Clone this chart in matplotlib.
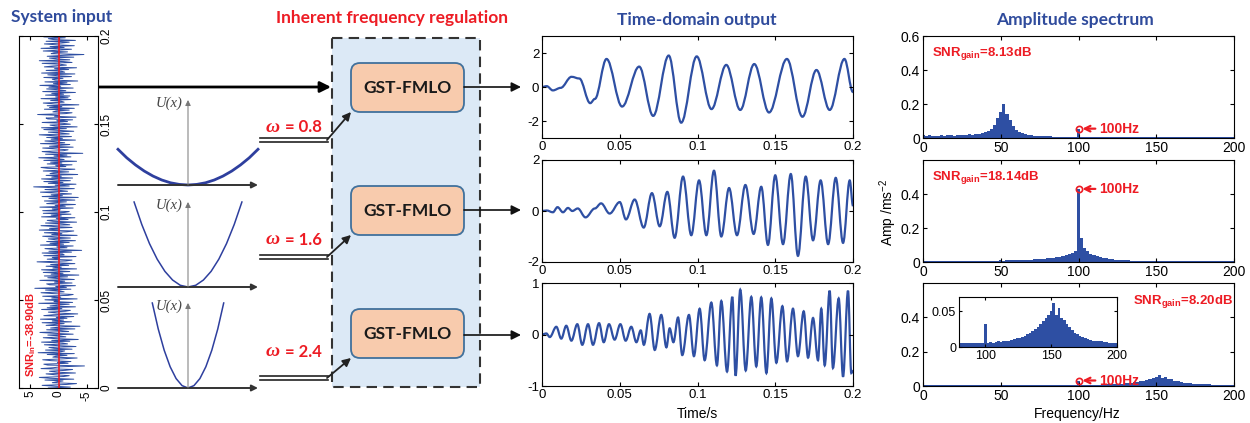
import numpy as np
import matplotlib.pyplot as plt
from matplotlib.patches import FancyBboxPatch, Rectangle, PathPatch
from matplotlib.path import Path

plt.rcParams['font.family'] = ['Liberation Sans', 'DejaVu Sans']
plt.rcParams['mathtext.fontset'] = 'custom'
plt.rcParams['mathtext.rm'] = 'Liberation Sans'
plt.rcParams['mathtext.bf'] = 'Liberation Sans:bold'
plt.rcParams['mathtext.it'] = 'Liberation Sans:italic'
plt.rcParams['axes.unicode_minus'] = False
plt.rcParams['xtick.direction'] = 'in'
plt.rcParams['ytick.direction'] = 'in'
plt.rcParams['xtick.top'] = True
plt.rcParams['ytick.right'] = True

# ---- data ----
# system input (noisy signal), amplitude samples over 0..0.2 s
noise = [1.8, -2.1, 0.6, 2.9, -1.4, -3.2, 1.1, 0.3, -0.8, 2.4,
         -2.7, 1.5, 3.4, -0.9, -1.9, 0.7, 2.2, -3.0, 0.4, 1.6,
         -1.2, -2.5, 3.1, 0.9, -0.3, -4.6, 1.9, 2.6, -1.7, 0.2,
         -2.2, 1.3, 2.8, -0.6, -3.3, 1.0, 0.5, -1.5, 2.0, -2.8,
         3.6, -0.4, -1.1, 2.3, -2.4, 0.8, 1.7, -3.1, 0.1, 2.5,
         -1.6, -0.7, 3.0, -2.0, 1.2, -3.5, 0.6, 2.7, -1.3, -0.2,
         1.9, -2.6, 0.9, 3.3, -1.8, -0.5, 2.1, -2.9, 1.4, 0.0,
         -3.8, 2.2, 0.7, -1.0, 2.9, -2.3, 1.1, -0.9, 3.2, -1.5,
         0.4, -2.7, 2.6, 1.0, -3.4, 0.3, 1.8, -1.2, -2.1, 3.0,
         -0.6, 2.0, -3.0, 1.5, 0.2, -1.9, 3.5, -2.5, 0.8, -0.1,
         2.4, -3.3, 1.2, -0.4, 2.8, -1.7, -2.6, 0.9, 3.1, -1.0,
         -0.3, 2.3, -2.2, 4.2, -1.4, 0.5, -3.0, 1.6, 2.1, -2.4,
         0.7, -1.1, 3.3, -2.8, 0.0, 1.9, -1.6, 2.5, -3.6, 1.3,
         -0.8, 2.7, -2.0, 0.4, 3.0, -3.2, 1.0, -0.5, 2.2, -1.8,
         1.4, -2.9, 0.6, 3.8, -1.3, -2.4, 2.0, -0.2, 1.1, -3.1,
         2.6, -1.0, -0.7, 2.9, -2.3, 1.7, -4.1, 0.8, 2.4, -1.5,
         0.3, -2.6, 3.2, -0.9, 1.5, -1.9, 2.1, -3.0, 0.5, 1.8,
         -2.1, 0.9, 2.8, -3.3, 1.2, -0.6, 2.5, -1.4, -2.7, 3.4,
         -0.2, 1.6, -2.4, 0.7, 3.1, -2.0, -0.8, 2.3, -3.2, 1.0,
         2.0, -1.7, 0.4, -2.9, 3.0, -0.5, 1.3, -2.2, 2.7, -1.1,
         -1.9, 2.8, -0.3, 1.1, -2.6, 3.3, -1.2, 0.6, -3.0, 2.1,
         0.8, -1.4, 2.5, -2.9, 0.2, 1.7, -3.5, 2.9, -0.7, 1.3,
         -2.3, 0.4, 3.2, -1.6, -0.2, 2.4, -2.8, 1.0, 4.4, -1.9,
         0.6, -3.1, 1.8, -0.8, 2.6, -2.1, 0.3, 3.0, -2.5, 1.2,
         -0.5, 2.2, -3.4, 1.5, 0.9, -1.8, 2.7, -0.4, -2.9, 1.9,
         3.1, -1.3, 0.5, -2.4, 2.0, -0.6, 1.4, -3.2, 2.6, -1.0,
         0.2, 3.5, -2.2, 0.8, -1.5, 2.3, -4.3, 1.1, 2.9, -0.9,
         -1.7, 0.7, 2.8, -2.6, 1.6, -0.3, -2.0, 3.2, -1.1, 0.5,
         2.4, -3.0, 1.3, -0.7, 2.1, -2.3, 0.9, 3.4, -1.9, -0.4,
         1.8, -2.7, 0.1, 2.6, -1.4, 3.0, -3.3, 0.6, 1.5, -2.1,
         -0.8, 2.9, -1.6, 0.3, -2.5, 1.9, 2.2, -3.1, 0.7, -0.2,
         3.7, -1.2, -2.4, 1.0, 0.4, -1.9, 2.5, -2.8, 1.6, -0.6,
         2.0, -3.6, 0.8, 2.7, -1.0, -0.5, 1.4, -2.2, 3.1, -1.7,
         0.5, -2.0, 2.3, -0.9, 1.2, -3.0, 2.8, -1.3, -0.1, 2.1,
         -2.6, 1.7, -0.4, 3.3, -2.1, 0.9, -1.5, 2.4, -3.4, 0.6,
         1.1, -0.8, 2.6, -2.3, 0.2, 1.9, -2.9, 3.0, -1.1, -0.6,
         2.2, -1.8, 0.7, -3.2, 2.5, 1.0, -1.4, -0.3, 2.9, -2.4,
         -0.9, 3.4, -2.0, 0.4, 1.6, -2.7, 2.0, -0.7, -4.5, 1.3,
         0.8, -1.6, 2.7, -0.2, -2.3, 3.1, -1.0, 1.5, -2.8, 0.3,
         2.5, -0.5, -1.9, 2.2, -3.0, 0.9, 1.8, -1.2, 2.6, -1.8]
noise_t = np.linspace(0, 0.2, len(noise))
clean_t = [0, 0.2]
clean_x = [0, 0]

# potential wells U(x) for the three omega values
well1_x = [-1.0, -0.875, -0.75, -0.625, -0.5, -0.375, -0.25, -0.125, 0.0,
           0.125, 0.25, 0.375, 0.5, 0.625, 0.75, 0.875, 1.0]
well1_u = [0.42, 0.32, 0.236, 0.164, 0.105, 0.059, 0.026, 0.007, 0.0,
           0.007, 0.026, 0.059, 0.105, 0.164, 0.236, 0.32, 0.42]
well2_x = [-0.77, -0.66, -0.55, -0.44, -0.33, -0.22, -0.11, 0.0,
           0.11, 0.22, 0.33, 0.44, 0.55, 0.66, 0.77]
well2_u = [1.0, 0.735, 0.51, 0.327, 0.184, 0.082, 0.02, 0.0,
           0.02, 0.082, 0.184, 0.327, 0.51, 0.735, 1.0]
well3_x = [-0.51, -0.425, -0.34, -0.255, -0.17, -0.085, 0.0,
           0.085, 0.17, 0.255, 0.34, 0.425, 0.51]
well3_u = [1.0, 0.694, 0.444, 0.25, 0.111, 0.028, 0.0,
           0.028, 0.111, 0.25, 0.444, 0.694, 1.0]
omegas = ['0.8', '1.6', '2.4']

# time-domain outputs (peaks / troughs)
out1_t = [0, 0.003, 0.007, 0.012, 0.019, 0.024, 0.031, 0.034, 0.0415, 0.0515,
          0.0625, 0.0715, 0.0815, 0.0895, 0.0995, 0.109, 0.1185, 0.1275, 0.1365,
          0.146, 0.1575, 0.1675, 0.1765, 0.185, 0.1945, 0.2]
out1_y = [0, 0.05, -0.2, -0.05, 0.6, 0.5, -0.95, -0.7, 1.65, -1.15,
          1.2, -1.7, 1.85, -2.1, 1.8, -1.3, 1.3, -1.35, 1.35,
          -1.5, 1.65, -1.75, 1.0, -1.35, 1.65, -0.3]
out2_t = [0, 0.003, 0.007, 0.010, 0.0135, 0.0167, 0.0195, 0.023, 0.028, 0.034,
          0.038, 0.0435, 0.050, 0.054, 0.0596, 0.0654, 0.0707, 0.0757, 0.0806, 0.0853,
          0.0907, 0.096, 0.101, 0.1057, 0.1106, 0.1153, 0.1203, 0.1254, 0.1308, 0.1361,
          0.141, 0.1453, 0.150, 0.155, 0.160, 0.1646, 0.1696, 0.1743, 0.1792, 0.184,
          0.1889, 0.1936, 0.1979, 0.2]
out2_y = [0, 0.02, -0.05, 0.15, -0.05, 0.12, 0.0, 0.1, -0.25, 0.1,
          0.3, -0.1, 0.35, -0.33, 0.45, -0.65, 0.7, -0.6, 0.75, -1.05,
          1.35, -0.95, 1.2, -0.95, 1.58, -1.0, 0.9, -0.95, 1.02, -0.9,
          0.95, -1.33, 1.4, -1.3, 1.45, -1.76, 1.35, -1.15, 1.2, -1.3,
          1.3, -1.25, 1.2, 0.2]
out3_t = [0, 0.0028, 0.005, 0.0092, 0.0124, 0.0156, 0.0189, 0.0227, 0.0259, 0.0296,
          0.0328, 0.0367, 0.0397, 0.0431, 0.0467, 0.0504, 0.0538, 0.0574, 0.0607, 0.0635,
          0.0655, 0.0692, 0.0725, 0.0767, 0.080, 0.0821, 0.0845, 0.0875, 0.0902, 0.0945,
          0.0977, 0.1014, 0.1046, 0.1089, 0.1125, 0.1153, 0.119, 0.1224, 0.1245, 0.1275,
          0.131, 0.1346, 0.1378, 0.141, 0.1443, 0.1475, 0.1507, 0.1546, 0.1576, 0.1614,
          0.1646, 0.1683, 0.1711, 0.1743, 0.1775, 0.1796, 0.1818, 0.185, 0.1871, 0.1908,
          0.1936, 0.1968, 0.1989, 0.2]
out3_y = [0, 0.02, -0.05, 0.15, -0.08, 0.17, -0.12, 0.2, -0.2, 0.2,
          -0.2, 0.22, -0.15, 0.2, -0.1, 0.2, -0.12, 0.15, -0.15, 0.08,
          -0.2, 0.4, -0.3, 0.38, -0.25, 0.12, -0.15, 0.33, -0.4, 0.38,
          -0.42, 0.5, -0.5, 0.62, -0.6, 0.65, -0.72, 0.73, -0.8, 0.87,
          -0.7, 0.73, -0.62, 0.72, -0.75, 0.7, -0.55, 0.55, -0.52, 0.5,
          -0.42, 0.45, -0.45, 0.32, -0.5, 0.5, -0.6, 0.85, -0.65, 0.7,
          -0.82, 0.85, -0.75, -0.7]

# amplitude spectra, 2 Hz bins from 0 to 200 Hz
freq = np.arange(0, 201, 2)
spec1 = [0.016, 0.012, 0.015, 0.011, 0.014, 0.013, 0.016, 0.012, 0.015, 0.017,
         0.014, 0.018, 0.016, 0.019, 0.017, 0.021, 0.019, 0.023, 0.025, 0.029,
         0.033, 0.041, 0.052, 0.078, 0.12, 0.15, 0.2, 0.14, 0.105, 0.068,
         0.046, 0.036, 0.029, 0.023, 0.02, 0.017, 0.014, 0.013, 0.011, 0.01,
         0.009, 0.009, 0.008, 0.007, 0.007, 0.006, 0.006, 0.005, 0.005, 0.005,
         0.055, 0.006, 0.005, 0.004, 0.003, 0.004, 0.004, 0.003, 0.004, 0.003,
         0.004, 0.003, 0.003, 0.004, 0.003, 0.003, 0.004, 0.003, 0.003, 0.004,
         0.003, 0.003, 0.003, 0.003, 0.004, 0.003, 0.003, 0.003, 0.004, 0.003,
         0.003, 0.003, 0.003, 0.003, 0.003, 0.004, 0.003, 0.003, 0.003, 0.003,
         0.003, 0.003, 0.003, 0.003, 0.003, 0.003, 0.003, 0.003, 0.003, 0.003,
         0.003]
spec2 = [0.005, 0.004, 0.006, 0.004, 0.005, 0.005, 0.004, 0.006, 0.005, 0.005,
         0.006, 0.005, 0.006, 0.005, 0.007, 0.006, 0.006, 0.007, 0.006, 0.007,
         0.007, 0.008, 0.007, 0.008, 0.008, 0.009, 0.008, 0.009, 0.009, 0.01,
         0.01, 0.011, 0.011, 0.012, 0.013, 0.014, 0.015, 0.016, 0.018, 0.02,
         0.022, 0.024, 0.026, 0.028, 0.031, 0.035, 0.04, 0.046, 0.052, 0.062,
         0.43, 0.14, 0.085, 0.062, 0.05, 0.042, 0.034, 0.029, 0.025, 0.021,
         0.018, 0.016, 0.014, 0.012, 0.011, 0.01, 0.009, 0.008, 0.008, 0.007,
         0.006, 0.005, 0.005, 0.004, 0.005, 0.004, 0.004, 0.004, 0.003, 0.004,
         0.003, 0.004, 0.004, 0.003, 0.004, 0.003, 0.003, 0.004, 0.003, 0.003,
         0.004, 0.003, 0.003, 0.003, 0.004, 0.003, 0.003, 0.003, 0.003, 0.003,
         0.003]
spec3 = [0.005, 0.004, 0.006, 0.005, 0.004, 0.006, 0.005, 0.005, 0.004, 0.006,
         0.005, 0.004, 0.005, 0.006, 0.004, 0.005, 0.005, 0.006, 0.004, 0.005,
         0.006, 0.005, 0.004, 0.005, 0.006, 0.005, 0.005, 0.004, 0.006, 0.005,
         0.005, 0.006, 0.004, 0.005, 0.005, 0.006, 0.005, 0.004, 0.006, 0.005,
         0.005, 0.006, 0.005, 0.005, 0.006, 0.005, 0.006, 0.005, 0.006, 0.006,
         0.032, 0.006, 0.007, 0.006, 0.007, 0.008, 0.007, 0.008, 0.009, 0.009,
         0.01, 0.011, 0.012, 0.013, 0.014, 0.016, 0.018, 0.02, 0.022, 0.025,
         0.028, 0.032, 0.036, 0.04, 0.045, 0.05, 0.062, 0.045, 0.055, 0.04,
         0.038, 0.032, 0.028, 0.024, 0.02, 0.018, 0.016, 0.014, 0.012, 0.011,
         0.01, 0.009, 0.009, 0.008, 0.008, 0.007, 0.007, 0.006, 0.006, 0.005,
         0.005]
snr_gain = ['8.13', '18.14', '8.20']

blue = '#2e4fa3'
red = '#ed1c24'
tblue = '#2f4b9c'

W, H = 1250, 423
fig = plt.figure(figsize=(12.5, 4.23), dpi=100)


def px_axes(x0, y0, x1, y1):
    return fig.add_axes([x0 / W, 1 - y1 / H, (x1 - x0) / W, (y1 - y0) / H])


def smooth_path(t, y):
    # cubic bezier segments with flat tangents at each peak / trough
    verts = [(t[0], y[0])]
    codes = [Path.MOVETO]
    for i in range(len(t) - 1):
        d = (t[i + 1] - t[i]) * 0.36
        verts += [(t[i] + d, y[i]), (t[i + 1] - d, y[i + 1]), (t[i + 1], y[i + 1])]
        codes += [Path.CURVE4] * 3
    return Path(verts, codes)


# overlay in pixel coordinates for the block diagram
ov = px_axes(0, 0, W, H)
ov.set_xlim(0, W)
ov.set_ylim(H, 0)
ov.axis('off')

tfont = dict(family=['Lato', 'DejaVu Sans'], weight='bold', ha='center', va='center')
ov.text(62, 17, 'System input', color=tblue, fontsize=12.5, **tfont)
ov.text(392, 18, 'Inherent frequency regulation', color=red, fontsize=12.5, **tfont)
ov.text(697, 20, 'Time-domain output', color=tblue, fontsize=12.5, **tfont)
ov.text(1075, 20, 'Amplitude spectrum', color=tblue, fontsize=12.5, **tfont)

ov.add_patch(Rectangle((332, 38), 148, 349, fc='#dce9f6', ec='#333333',
                       ls=(0, (5, 3)), lw=1.5))
ov.annotate('', xy=(331, 87), xytext=(98, 87),
            arrowprops=dict(arrowstyle='-|>', color='k', lw=2, mutation_scale=16,
                            shrinkA=0, shrinkB=0))

box_top = [63, 186, 309]
line_y = [140, 257, 378]
lab_y = [127, 240, 352]
out_y = [87, 210, 335]
for i in range(3):
    ov.add_patch(FancyBboxPatch((351, box_top[i]), 113, 49,
                                boxstyle='round,pad=0,rounding_size=9',
                                fc='#f8cbad', ec='#41719c', lw=1.3))
    ov.text(407, box_top[i] + 25, 'GST-FMLO', fontsize=12.5, color='#1a1a1a', **tfont)
    ov.plot([260, 328], [line_y[i] - 2, line_y[i] - 2], color='#222', lw=1.2)
    ov.plot([260, 328], [line_y[i] + 2, line_y[i] + 2], color='#222', lw=1.2)
    ov.annotate('', xy=(351, box_top[i] + 49), xytext=(327, line_y[i]),
                arrowprops=dict(arrowstyle='-|>', color='#222', lw=1.3,
                                mutation_scale=12, shrinkA=0, shrinkB=0))
    ov.text(280, lab_y[i], 'ω', color=red, fontsize=14, family='Liberation Serif',
            style='italic', weight='bold', ha='right', va='center')
    ov.text(285, lab_y[i], '= ' + omegas[i], color=red, fontsize=12,
            family=['Lato', 'DejaVu Sans'], weight='bold', ha='left', va='center')
    ov.annotate('', xy=(521, out_y[i]), xytext=(464, out_y[i]),
                arrowprops=dict(arrowstyle='-|>', color='#111', lw=1.2,
                                mutation_scale=14, shrinkA=0, shrinkB=0))

ov.text(697, 414, 'Time/s', fontsize=10, ha='center', va='center')
ov.text(1077, 414, 'Frequency/Hz', fontsize=10, ha='center', va='center')
ov.text(888, 212, 'Amp /ms$^{-2}$', fontsize=10, rotation=90, ha='center', va='center')

# system input panel (rotated MATLAB plot)
ax_in = px_axes(19, 36, 98, 388)
ax_in.plot(noise, noise_t, color=blue, lw=0.7)
ax_in.plot(clean_x, clean_t, color=red, lw=1.2)
ax_in.set_xlim(7, -7)
ax_in.set_ylim(0, 0.2)
ax_in.set_xticks([5, 0, -5])
ax_in.set_xticklabels(['5', '0', '-5'], rotation=90)
ax_in.set_yticks([0, 0.05, 0.1, 0.15, 0.2])
ax_in.set_yticklabels(['0', '0.05', '0.1', '0.15', '0.2'], rotation=90, va='center')
ax_in.yaxis.tick_right()
ax_in.yaxis.set_ticks_position('both')
ax_in.tick_params(labelsize=8.5, length=3, pad=2)
ax_in.text(4.8, 0.006, r'$\mathbf{SNR_{in}}$=-38.90dB', color=red, fontsize=8,
           weight='bold', rotation=90, ha='center', va='bottom')

# potential wells
well_rects = [(118, 100, 258, 185), (118, 202, 258, 287), (118, 303, 258, 388)]
wells = [(well1_x, well1_u, 2.0), (well2_x, well2_u, 1.1), (well3_x, well3_u, 1.1)]
for rect, (wx, wu, lw) in zip(well_rects, wells):
    ax = px_axes(*rect)
    ax.set_xlim(-1, 1)
    ax.set_ylim(0, 1)
    ax.axis('off')
    ax.annotate('', xy=(1.0, 0), xytext=(-1, 0), annotation_clip=False,
                arrowprops=dict(arrowstyle='-|>', color='#333', lw=1.4,
                                mutation_scale=9, shrinkA=0, shrinkB=0))
    ax.annotate('', xy=(0, 1), xytext=(0, 0), annotation_clip=False,
                arrowprops=dict(arrowstyle='-|>', color='#777', lw=0.7,
                                mutation_scale=8, shrinkA=0, shrinkB=0))
    ax.plot(wx, wu, color='#2e3f9e', lw=lw, clip_on=False)
    ax.text(-0.08, 0.96, 'U(x)', family='Liberation Serif', style='italic',
            fontsize=10.5, color='#444', ha='right', va='center')

# time-domain outputs
t_rects = [(542, 36, 853, 138), (542, 160, 853, 262), (542, 283, 853, 386)]
t_data = [(out1_t, out1_y, (-3, 3), [-2, 0, 2]),
          (out2_t, out2_y, (-2, 2), [-2, 0, 2]),
          (out3_t, out3_y, (-1, 1), [-1, 0, 1])]
for rect, (tt, yy, lim, yt) in zip(t_rects, t_data):
    ax = px_axes(*rect)
    ax.add_patch(PathPatch(smooth_path(tt, yy), fc='none', ec=blue, lw=1.6))
    ax.set_xlim(0, 0.2)
    ax.set_ylim(lim)
    ax.set_xticks([0, 0.05, 0.1, 0.15, 0.2])
    ax.set_xticklabels(['0', '0.05', '0.1', '0.15', '0.2'])
    ax.set_yticks(yt)
    ax.tick_params(labelsize=9.5, length=3, pad=2)

# amplitude spectra
s_rects = [(923, 36, 1234, 138), (923, 160, 1234, 262), (923, 283, 1234, 386)]
specs = [spec1, spec2, spec3]
peak100 = [0.055, 0.43, 0.032]
snr_pos = [(0.03, 0.83), (0.03, 0.83), (0.675, 0.82)]
for k, rect in enumerate(s_rects):
    ax = px_axes(*rect)
    ax.bar(freq, specs[k], width=2, color=blue, lw=0)
    ax.set_xlim(0, 200)
    ax.set_ylim(0, 0.6)
    ax.set_xticks([0, 50, 100, 150, 200])
    if k == 0:
        ax.set_yticks([0, 0.2, 0.4, 0.6])
        ax.set_yticklabels(['0', '0.2', '0.4', '0.6'])
    else:
        ax.set_yticks([0, 0.2, 0.4])
        ax.set_yticklabels(['0', '0.2', '0.4'])
    ax.tick_params(labelsize=10, length=3, pad=2)
    ax.plot(100, peak100[k], 'o', mfc='none', mec=red, ms=4.5, mew=1.2)
    ax.annotate('100Hz', xy=(102.5, peak100[k]), xytext=(113.5, peak100[k]),
                color=red, fontsize=10, weight='bold', ha='left', va='center',
                arrowprops=dict(arrowstyle='->', color=red, lw=1.6,
                                shrinkA=1, shrinkB=0))
    ax.text(snr_pos[k][0], snr_pos[k][1], r'SNR$_{\mathbf{gain}}$=' + snr_gain[k] + 'dB',
            transform=ax.transAxes, color=red, fontsize=9.5, weight='bold',
            ha='left', va='center')

ins = px_axes(959, 297, 1117, 347)
ins.bar(freq, spec3, width=2, color=blue, lw=0)
ins.set_xlim(80, 200)
ins.set_ylim(0, 0.07)
ins.set_xticks([100, 150, 200])
ins.set_yticks([0, 0.05])
ins.set_yticklabels(['0', '0.05'])
ins.tick_params(labelsize=9, length=2.5, pad=2)

fig.savefig('out.png', dpi=100)
